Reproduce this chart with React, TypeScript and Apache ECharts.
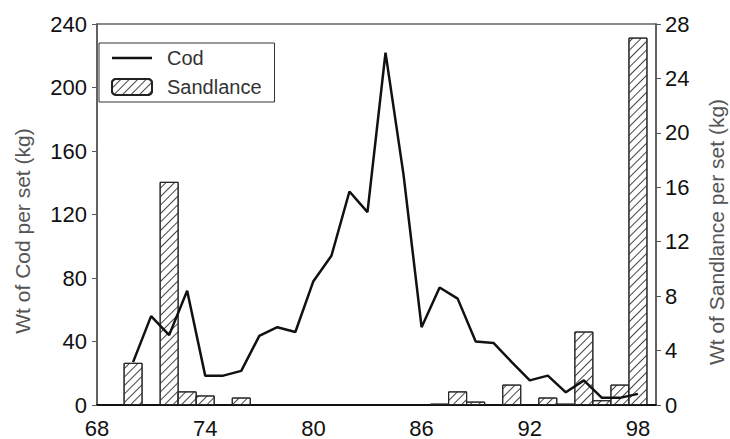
import React, { useEffect, useRef } from "react";
import * as echarts from "echarts";

// Survey years on the shared x axis
const years = [70, 71, 72, 73, 74, 75, 76, 77, 78, 79, 80, 81, 82, 83, 84, 85, 86, 87, 88, 89, 90, 91, 92, 93, 94, 95, 96, 97, 98];
// Cod catch, kg per set (left axis)
const codWeights = [27, 56, 44, 72, 18.5, 18.5, 21.5, 43.5, 49, 46, 78, 94, 134.5, 121.5, 222, 145, 49, 74, 67, 40, 39, 27, 15.5, 18.5, 8, 15.5, 4.5, 4.5, 7];
// Sandlance catch, kg per set (right axis), only years with a catch
const sandYears = [70, 72, 73, 74, 76, 87, 88, 89, 91, 93, 94, 95, 96, 97, 98];
const sandWeights = [3.1, 16.4, 1.0, 0.7, 0.55, 0.1, 1.0, 0.25, 1.5, 0.55, 0.1, 5.4, 0.35, 1.5, 27.0];

const xTickStep = 6;
const leftMax = 240;
const leftStep = 40;
const rightMax = 28;
const rightStep = 4;

const FONT = "'Liberation Sans', Arial, sans-serif";
// Plain line glyph for the Cod legend entry; the leading/trailing moveTo keep a 40x16 box
const LINE_ICON = "path://M0,0 M0,6.8 L40,6.8 L40,9.2 L0,9.2 Z M40,16";

export default function App() {
  const ref = useRef<HTMLDivElement>(null);

  useEffect(() => {
    document.body.style.margin = "0";
    if (!ref.current) return;
    const chart = echarts.init(ref.current, null, { renderer: "svg" });

    const codData = years.map((y, i) => [y, codWeights[i]]);
    const sandData = sandYears.map((y, i) => [y, sandWeights[i]]);

    chart.setOption({
      animation: false,
      backgroundColor: "#fff",
      textStyle: { fontFamily: FONT },
      grid: {
        left: 97,
        right: 74,
        top: 24,
        bottom: 32.5,
        show: true,
        borderColor: "#666",
        borderWidth: 1.5,
        backgroundColor: "transparent",
      },
      legend: {
        orient: "vertical",
        left: 99,
        top: 43,
        padding: [5, 13, 5, 12],
        itemGap: 9,
        itemWidth: 40,
        itemHeight: 16,
        borderColor: "#333",
        borderWidth: 1,
        backgroundColor: "#fff",
        textStyle: { fontSize: 20, color: "#333", fontFamily: FONT, padding: [0, 0, 0, 10] },
        data: [{ name: "Cod", icon: LINE_ICON }, { name: "Sandlance" }],
      },
      xAxis: {
        type: "value",
        min: 68,
        max: 99,
        interval: xTickStep,
        axisLine: { show: true, lineStyle: { color: "#111", width: 2 } },
        axisTick: { show: false },
        splitLine: { show: false },
        axisLabel: {
          fontSize: 22,
          color: "#111",
          margin: 12,
          showMaxLabel: false,
          formatter: (v: number) => ((v - 68) % xTickStep === 0 ? String(v) : ""),
        },
      },
      yAxis: [
        {
          type: "value",
          min: 0,
          max: leftMax,
          interval: leftStep,
          axisLine: { show: true, lineStyle: { color: "#555", width: 1.5 } },
          axisTick: { show: true, length: 5, lineStyle: { color: "#555" } },
          splitLine: { show: false },
          axisLabel: { fontSize: 22, color: "#111", margin: 10 },
        },
        {
          type: "value",
          min: 0,
          max: rightMax,
          interval: rightStep,
          position: "right",
          axisLine: { show: true, lineStyle: { color: "#555", width: 1.5 } },
          axisTick: { show: true, length: 5, lineStyle: { color: "#555" } },
          splitLine: { show: false },
          axisLabel: { fontSize: 22, color: "#111", margin: 9 },
        },
      ],
      graphic: [
        {
          type: "text",
          x: 22,
          y: 231,
          rotation: Math.PI / 2,
          style: {
            text: "Wt of Cod per set (kg)",
            fontSize: 21,
            fontFamily: FONT,
            fill: "#555",
            textAlign: "center",
            textVerticalAlign: "middle",
          },
        },
        {
          type: "text",
          x: 716,
          y: 232,
          rotation: Math.PI / 2,
          style: {
            text: "Wt of Sandlance per set (kg)",
            fontSize: 21,
            fontFamily: FONT,
            fill: "#555",
            textAlign: "center",
            textVerticalAlign: "middle",
          },
        },
      ],
      series: [
        {
          name: "Sandlance",
          type: "bar",
          yAxisIndex: 1,
          barWidth: 19,
          data: sandData,
          z: 1,
          itemStyle: {
            color: "#fff",
            borderColor: "#222",
            borderWidth: 1,
            decal: {
              symbol: "rect",
              symbolSize: 1,
              dashArrayX: [1, 0],
              dashArrayY: [1, 4.5],
              rotation: -Math.PI / 4,
              color: "#444",
            },
          },
        },
        {
          name: "Cod",
          type: "line",
          yAxisIndex: 0,
          data: codData,
          symbol: "none",
          z: 3,
          lineStyle: { color: "#111", width: 2.5 },
          itemStyle: { color: "#111" },
        },
      ],
    });

    return () => chart.dispose();
  }, []);

  return <div ref={ref} style={{ width: 730, height: 439 }} />;
}
